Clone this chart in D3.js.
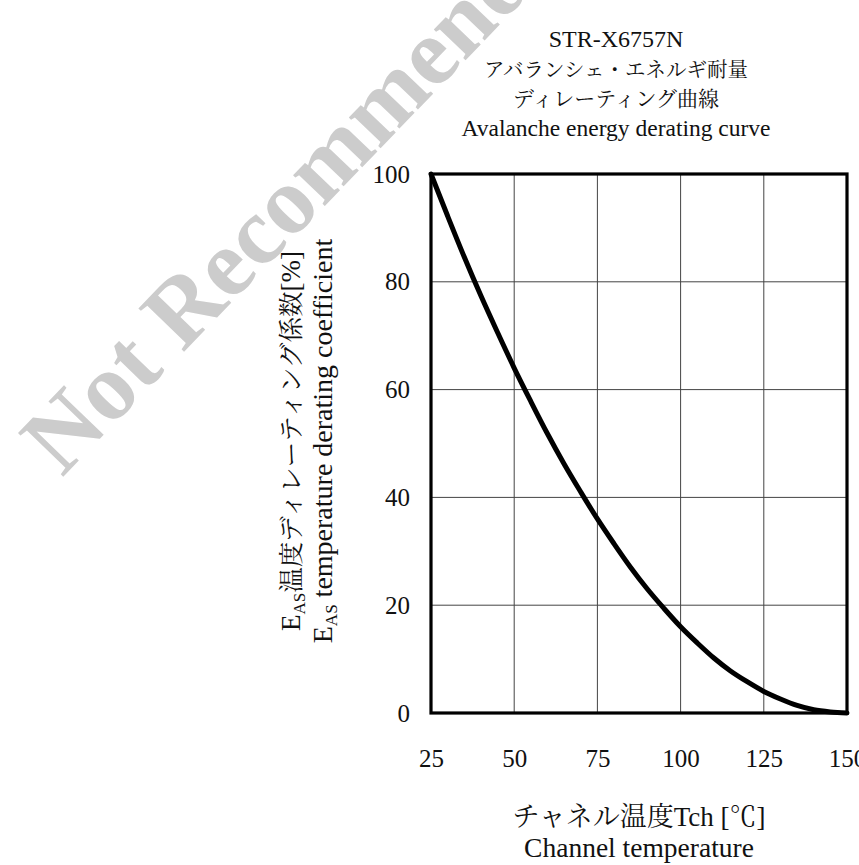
<!DOCTYPE html>
<html>
<head>
<meta charset="utf-8">
<script src="https://cdn.jsdelivr.net/npm/d3@7"></script>
<style>
  html, body { margin: 0; padding: 0; background: #fff; }
  svg { display: block; }
  text { font-family: "Liberation Serif", "Times New Roman", "Noto Serif CJK JP", "Noto Sans CJK JP", serif; fill: #111; }
</style>
</head>
<body>
<svg id="chart" width="859" height="865"></svg>
<script>
// ---- data ----
const temperature = [25, 30, 35, 40, 45, 50, 55, 60, 65, 70, 75, 80, 85, 90, 95, 100, 105, 110, 115, 120, 125, 130, 135, 140, 145, 150];
const derating    = [100, 92.2, 84.6, 77.4, 70.6, 64, 57.8, 51.8, 46.2, 41, 36, 31.4, 27, 23, 19.4, 16, 13, 10.2, 7.8, 5.8, 4, 2.6, 1.4, 0.6, 0.2, 0];
const xTicks = [25, 50, 75, 100, 125, 150];
const yTicks = [0, 20, 40, 60, 80, 100];
const titleLines = ["STR-X6757N", "アバランシェ・エネルギ耐量", "ディレーティング曲線", "Avalanche energy derating curve"];
const titleSizes = [24, 20.5, 21, 23.5];
const xLabelLines = ["チャネル温度Tch [℃]", "Channel temperature"];
const yLabelLine1 = ["E", "AS", "温度ディレーティング係数", "[%]"];
const yLabelLine2 = ["E", "AS", " temperature derating coefficient"];
const watermark = "Not Recommended";

const svg = d3.select("#chart");
const x = d3.scaleLinear().domain([25, 150]).range([431, 847]);
const y = d3.scaleLinear().domain([0, 100]).range([713, 174]);

// watermark
svg.append("text")
  .attr("transform", "translate(62,478) rotate(-46)")
  .style("font-family", "'Liberation Serif', serif")
  .style("font-weight", "bold")
  .style("font-size", "96px")
  .style("fill", "#cccccc")
  .text(watermark);

// grid
const grid = svg.append("g");
grid.selectAll(".vx").data(xTicks.slice(1, -1)).join("line")
  .attr("x1", d => x(d)).attr("x2", d => x(d))
  .attr("y1", y(0)).attr("y2", y(100))
  .attr("stroke", "#444").attr("stroke-width", 1);
grid.selectAll(".hy").data(yTicks.slice(1, -1)).join("line")
  .attr("x1", x(25)).attr("x2", x(150))
  .attr("y1", d => y(d)).attr("y2", d => y(d))
  .attr("stroke", "#444").attr("stroke-width", 1);

// curve
const line = d3.line().x((d, i) => x(temperature[i])).y(d => y(d)).curve(d3.curveMonotoneX);
svg.append("path").datum(derating)
  .attr("d", line)
  .attr("fill", "none").attr("stroke", "#000").attr("stroke-width", 5)
  .attr("stroke-linecap", "round");

// frame
svg.append("rect")
  .attr("x", x(25)).attr("y", y(100))
  .attr("width", x(150) - x(25)).attr("height", y(0) - y(100))
  .attr("fill", "none").attr("stroke", "#000").attr("stroke-width", 3.2);

// axes (tick labels only)
const xAxis = svg.append("g").attr("transform", `translate(0,${y(0)})`)
  .call(d3.axisBottom(x).tickValues(xTicks).tickSize(0).tickPadding(36).tickFormat(d3.format("d")));
xAxis.select(".domain").remove();
xAxis.selectAll("text").style("font-size", "25px").attr("fill", "#111")
  .style("font-family", "'Liberation Serif', serif");

const yAxis = svg.append("g").attr("transform", `translate(${x(25)},0)`)
  .call(d3.axisLeft(y).tickValues(yTicks).tickSize(0).tickPadding(21).tickFormat(d3.format("d")));
yAxis.select(".domain").remove();
yAxis.selectAll("text").style("font-size", "25px").attr("fill", "#111")
  .style("font-family", "'Liberation Serif', serif");

// title
svg.append("g").selectAll("text").data(titleLines).join("text")
  .attr("x", 616).attr("y", (d, i) => 47 + i * 29.5)
  .attr("text-anchor", "middle")
  .style("font-size", (d, i) => titleSizes[i] + "px")
  .text(d => d);

// x label
svg.append("g").selectAll("text").data(xLabelLines).join("text")
  .attr("x", 639).attr("y", (d, i) => 826 + i * 31)
  .attr("text-anchor", "middle")
  .style("font-size", (d, i) => (i === 0 ? 27 : 27.5) + "px")
  .text(d => d);

// y label
function yLabel(parts, xb, size, jpSize) {
  const t = svg.append("text")
    .attr("transform", `translate(${xb},441) rotate(-90)`)
    .attr("text-anchor", "middle")
    .style("font-size", size + "px");
  t.append("tspan").text(parts[0]);
  t.append("tspan").attr("dy", 5).style("font-size", "17px").text(parts[1]);
  t.append("tspan").attr("dy", -5).style("font-size", (jpSize || size) + "px").text(parts[2]);
  if (parts[3]) t.append("tspan").text(parts[3]);
}
yLabel(yLabelLine1, 300, 27, 25.5);
yLabel(yLabelLine2, 332, 28);
</script>
</body>
</html>
